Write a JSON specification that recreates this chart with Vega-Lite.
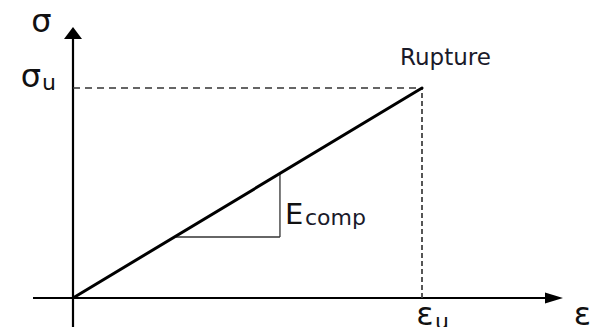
{
  "$schema": "https://vega.github.io/schema/vega-lite/v6.json",
  "width": 598,
  "height": 327,
  "autosize": "none",
  "padding": 0,
  "background": "white",
  "config": {"view": {"stroke": null}},
  "encoding": {
    "x": {"field": "x", "type": "quantitative", "axis": null, "scale": {"domain": [-0.20917, 1.5043], "nice": false, "zero": false}},
    "y": {"field": "y", "type": "quantitative", "axis": null, "scale": {"domain": [-0.138095, 1.419048], "nice": false, "zero": false}}
  },
  "layer": [
    {
      "data": {"values": [
        {"x": -0.1146, "y": 0, "x2": 1.39, "y2": 0},
        {"x": 0, "y": -0.16, "x2": 0, "y2": 1.27}
      ]},
      "mark": {"type": "rule", "color": "#000", "strokeWidth": 2.2},
      "encoding": {"x2": {"field": "x2"}, "y2": {"field": "y2"}}
    },
    {
      "data": {"values": [{"x": 1.404, "y": 0}]},
      "mark": {"type": "point", "shape": "M-2,-0.6L0,0L-2,0.6Z", "size": 324, "filled": true, "color": "#000", "opacity": 1}
    },
    {
      "data": {"values": [{"x": 0, "y": 1.2905}]},
      "mark": {"type": "point", "shape": "M-1,1.33L0,0L1,1.33Z", "size": 324, "filled": true, "color": "#000", "opacity": 1}
    },
    {
      "data": {"values": [{"x": 0, "y": 1, "x2": 1, "y2": 1}]},
      "mark": {"type": "rule", "color": "#333", "strokeWidth": 1.6, "strokeDash": [7, 5]},
      "encoding": {"x2": {"field": "x2"}, "y2": {"field": "y2"}}
    },
    {
      "data": {"values": [{"x": 1, "y": 0, "x2": 1, "y2": 1}]},
      "mark": {"type": "rule", "color": "#444", "strokeWidth": 1.8, "strokeDash": [5, 3]},
      "encoding": {"x2": {"field": "x2"}, "y2": {"field": "y2"}}
    },
    {
      "data": {"values": [
        {"x": 0.295, "y": 0.2905, "x2": 0.593, "y2": 0.2905},
        {"x": 0.593, "y": 0.2905, "x2": 0.593, "y2": 0.593}
      ]},
      "mark": {"type": "rule", "color": "#333", "strokeWidth": 1.3},
      "encoding": {"x2": {"field": "x2"}, "y2": {"field": "y2"}}
    },
    {
      "data": {"values": [{"x": 0, "y": 0, "x2": 1, "y2": 1}]},
      "mark": {"type": "rule", "color": "#000", "strokeWidth": 3, "strokeCap": "round"},
      "encoding": {"x2": {"field": "x2"}, "y2": {"field": "y2"}}
    },
    {
      "data": {"values": [
        {"label": "σ", "x": -0.0903, "y": 1.2667},
        {"label": "σ", "x": -0.1203, "y": 1.0048},
        {"label": "ε", "x": 1.0086, "y": -0.128},
        {"label": "ε", "x": 1.4599, "y": -0.128}
      ]},
      "mark": {"type": "text", "font": "DejaVu Sans", "fontSize": 32, "align": "center", "baseline": "alphabetic", "color": "#111"},
      "encoding": {"text": {"field": "label"}}
    },
    {
      "data": {"values": [
        {"label": "u", "x": -0.0888, "y": 0.9905},
        {"label": "u", "x": 1.0372, "y": -0.147}
      ]},
      "mark": {"type": "text", "font": "DejaVu Sans", "fontSize": 22, "align": "left", "baseline": "alphabetic", "color": "#111"},
      "encoding": {"text": {"field": "label"}}
    },
    {
      "data": {"values": [{"label": "Rupture", "x": 1.0673, "y": 1.1095}]},
      "mark": {"type": "text", "font": "DejaVu Sans", "fontSize": 23, "align": "center", "baseline": "alphabetic", "color": "#1a1a2a"},
      "encoding": {"text": {"field": "label"}}
    },
    {
      "data": {"values": [{"label": "E", "x": 0.6075, "y": 0.3524}]},
      "mark": {"type": "text", "font": "DejaVu Sans", "fontSize": 29, "align": "left", "baseline": "alphabetic", "color": "#111"},
      "encoding": {"text": {"field": "label"}}
    },
    {
      "data": {"values": [{"label": "comp", "x": 0.6648, "y": 0.3476}]},
      "mark": {"type": "text", "font": "DejaVu Sans", "fontSize": 22, "align": "left", "baseline": "alphabetic", "color": "#1a1a2a"},
      "encoding": {"text": {"field": "label"}}
    }
  ]
}
